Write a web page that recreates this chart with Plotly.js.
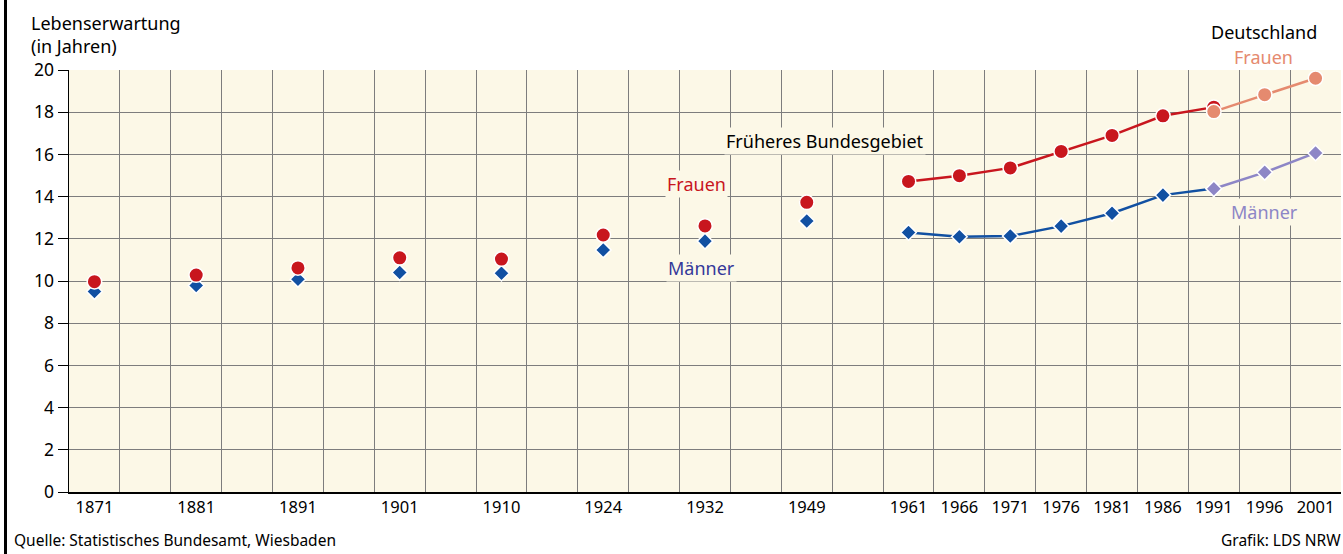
<!DOCTYPE html>
<html><head><meta charset="utf-8">
<script src="https://cdn.plot.ly/plotly-3.0.1.min.js"></script>
<style>
html,body{margin:0;padding:0;background:#fff;overflow:hidden}
#chart{width:1343px;height:554px;position:absolute;left:0;top:0}
#frame{position:absolute;left:4px;top:0;width:3px;height:554px;background:#000}
</style>
</head><body>
<div id="chart"></div><div id="frame"></div>
<script>
// ---- data ----
const tickYears = [1871,1881,1891,1901,1910,1924,1932,1949,1961,1966,1971,1976,1981,1986,1991,1996,2001];
const yearsWest = [1871,1881,1891,1901,1910,1924,1932,1949,1961,1966,1971,1976,1981,1986,1991];
const frauenWest = [9.97,10.28,10.62,11.10,11.04,12.18,12.61,13.73,14.72,14.99,15.36,16.14,16.90,17.83,18.24];
const maennerWest = [9.50,9.79,10.08,10.40,10.37,11.47,11.89,12.84,12.30,12.10,12.13,12.60,13.21,14.07,14.38];
const yearsDE = [1991,1996,2001];
const frauenDE = [18.03,18.83,19.61];
const maennerDE = [14.37,15.15,16.07];
const yTicks = [0,2,4,6,8,10,12,14,16,18,20];

// ---- layout helpers: early years take two grid columns, later ones one ----
const slot = y => (y < 1955 ? 2 : 1);
const posMap = {};
let acc = 0;
tickYears.forEach(y => { posMap[y] = acc + 0.5; acc += slot(y); });
const totalCols = acc;
const P = ys => ys.map(y => posMap[y]);
const pick = (ys, vs, f) => { const xs=[], out=[]; ys.forEach((y,i)=>{ if(f(y)){xs.push(y); out.push(vs[i]);} }); return [xs,out]; };

const RED='#c8161e', BLUE='#1150a2', SALMON='#e58a6f', LAV='#8d86c6', CREAM='#fcf8e7', GRID='#7d7d7d';
const circ = c => ({symbol:'circle', size:14.5, color:c, line:{color:'#ffffff', width:1.5}});
const diam = c => ({symbol:'diamond', size:12, color:c, line:{color:'#ffffff', width:1.5}});

const [mwE_y, mwE_v] = pick(yearsWest, maennerWest, y => y < 1955);
const [fwE_y, fwE_v] = pick(yearsWest, frauenWest, y => y < 1955);
const [mwL_y, mwL_v] = pick(yearsWest, maennerWest, y => y >= 1955);
const [fwL_y, fwL_v] = pick(yearsWest, frauenWest, y => y >= 1955);

const traces = [
  {x:P(mwE_y), y:mwE_v, mode:'markers', marker:diam(BLUE), cliponaxis:false},
  {x:P(fwE_y), y:fwE_v, mode:'markers', marker:circ(RED), cliponaxis:false},
  {x:P(mwL_y), y:mwL_v, mode:'lines+markers', line:{color:BLUE, width:2.5}, marker:diam(BLUE), cliponaxis:false},
  {x:P(fwL_y), y:fwL_v, mode:'lines+markers', line:{color:RED, width:2.5}, marker:circ(RED), cliponaxis:false},
  {x:P(yearsDE), y:maennerDE, mode:'lines+markers', line:{color:LAV, width:2.5}, marker:diam(LAV), cliponaxis:false},
  {x:P(yearsDE), y:frauenDE, mode:'lines+markers', line:{color:SALMON, width:2.5}, marker:circ(SALMON), cliponaxis:false}
];

const FONT = 'Noto Sans, Open Sans, sans-serif';
const TXT = 18;
const lab = (text, x, y, color, extra) => Object.assign({
  text, x, y, xref:'x', yref:'y', showarrow:false, bgcolor:CREAM, borderpad:1,
  font:{family:FONT, size:TXT, color}
}, extra||{});

const layout = {
  width:1343, height:554,
  margin:{l:69, r:2, t:70, b:62},
  paper_bgcolor:'#ffffff', plot_bgcolor:CREAM,
  showlegend:false,
  font:{family:FONT, size:16.5, color:'#000'},
  xaxis:{
    range:[0, totalCols], fixedrange:true,
    tickmode:'array', tickvals:P(tickYears), ticktext:tickYears.map(String),
    showgrid:false, ticks:'', zeroline:false,
    showline:true, linecolor:'#000', linewidth:1.5,
    tickfont:{family:FONT, size:16.5, color:'#000'},
    minor:{tickmode:'linear', tick0:0, dtick:1, showgrid:true, gridcolor:GRID, gridwidth:1, ticks:''}
  },
  yaxis:{
    range:[0,20], fixedrange:true,
    tickmode:'array', tickvals:yTicks, ticktext:yTicks.map(String),
    showgrid:true, gridcolor:GRID, gridwidth:1,
    ticks:'outside', ticklen:10, tickcolor:'#000', tickwidth:1,
    zeroline:false, showline:true, linecolor:'#000', linewidth:1.5,
    tickfont:{family:FONT, size:17.5, color:'#000'}
  },
  annotations:[
    lab('Frauen', 12.34, 14.6, RED),
    lab('Männer', 12.44, 10.62, '#35399a'),
    lab('Früheres Bundesgebiet', 14.86, 16.63, '#000'),
    lab('Deutschland', 23.49, 0, '#000', {yref:'paper', y:1, yanchor:'middle', yshift:38, bgcolor:'rgba(0,0,0,0)'}),
    lab('Frauen', 23.47, 0, SALMON, {yref:'paper', y:1, yanchor:'middle', yshift:13, bgcolor:'rgba(0,0,0,0)'}),
    lab('Männer', 23.49, 13.27, LAV),
    {text:'Lebenserwartung<br>(in Jahren)', xref:'paper', yref:'paper', x:0, y:1, xanchor:'left', yanchor:'bottom',
     xshift:-40, yshift:10, align:'left', showarrow:false, font:{family:FONT, size:TXT, color:'#000'}},
    {text:'Quelle: Statistisches Bundesamt, Wiesbaden', xref:'paper', yref:'paper', x:0, y:0, xanchor:'left', yanchor:'middle',
     xshift:-57, yshift:-48, showarrow:false, font:{family:FONT, size:15.5, color:'#000'}},
    {text:'Grafik: LDS NRW', xref:'paper', yref:'paper', x:1, y:0, xanchor:'right', yanchor:'middle',
     xshift:2, yshift:-48, showarrow:false, font:{family:FONT, size:15.5, color:'#000'}}
  ]
};

Plotly.newPlot('chart', traces, layout, {displayModeBar:false, staticPlot:true});
</script>
</body></html>
